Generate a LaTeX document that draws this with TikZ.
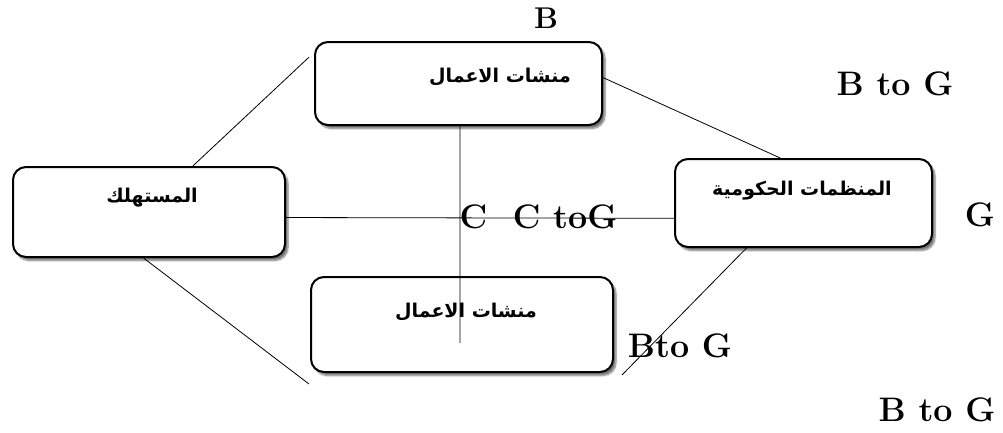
\documentclass[tikz,border=0pt]{standalone}
\usepackage{fontspec}
\newfontfamily\arabicfont[Script=Arabic]{DejaVu Sans Bold}
\TeXXeTstate=1
\usetikzlibrary{shadows.blur,calc}
\tikzset{
 box/.style={draw, rounded corners=13pt, line width=2pt, fill=white,
   blur shadow={shadow xshift=3pt, shadow yshift=-3.5pt, shadow blur steps=6, shadow opacity=55},
   inner sep=0pt},
 lbl/.style={font=\fontsize{34}{34}\selectfont\bfseries, inner sep=0pt},
 ar/.style={font=\arabicfont\fontsize{19}{19}\selectfont, inner sep=0pt},
 conn/.style={line width=0.8pt},
}
\begin{document}
\begin{tikzpicture}[x=1pt,y=-1pt]
\useasboundingbox (0,0) rectangle (1003,432);
% boxes
\node[box, minimum width=287pt, minimum height=83pt] (T) at (458.5,83.5) {};
\node[box, minimum width=272pt, minimum height=90pt] (L) at (149,212) {};
\node[box, minimum width=257pt, minimum height=88pt] (R) at (803.5,203) {};
\node[box, minimum width=302pt, minimum height=95pt] (Bt) at (462,324.5) {};
% box texts
\node[ar] (tT) at (500,77) {\beginR منشات الاعمال\endR};
\node[ar] (tL) at (152,198) {\beginR المستهلك\endR};
\node[ar] (tR) at (802,191) {\beginR المنظمات الحكومية\endR};
\node[ar] (tB) at (466,312) {\beginR منشات الاعمال\endR};
% free ends
\coordinate (v) at (460,343);
\coordinate (bl) at (309,384);
\coordinate (br) at (622,375);
% connectors
\draw[conn] ($(L.north west)!0.66!(L.north east)$) -- ($(T.north west)!0.19!(T.south west)+(-5,0)$);
\draw[conn] ($(T.north east)!0.43!(T.south east)$) -- ($(R.north west)!0.41!(R.north east)$);
\draw[conn] ($(L.north east)!0.56!(L.south east)$) -- ($(R.north west)!0.67!(R.south west)$);
\draw[conn] ($(T.south west)!0.505!(T.south east)$) -- (v);
\draw[conn] ($(L.south west)!0.48!(L.south east)$) -- (bl);
\draw[conn] ($(R.south west)!0.28!(R.south east)$) -- (br);
% labels
\node[lbl, font=\fontsize{30}{30}\selectfont\bfseries] (lB) at (546,18) {B};
\node[lbl] (lBG1) at (895,84) {B to G};
\node[lbl] (lG) at (980,215) {G};
\node[lbl] (lC) at (538.5,217) {C\ \ C toG};
\node[lbl] (lBG2) at (680,346) {Bto G};
\node[lbl] (lBG3) at (937,410) {B to G};
\end{tikzpicture}
\end{document}
